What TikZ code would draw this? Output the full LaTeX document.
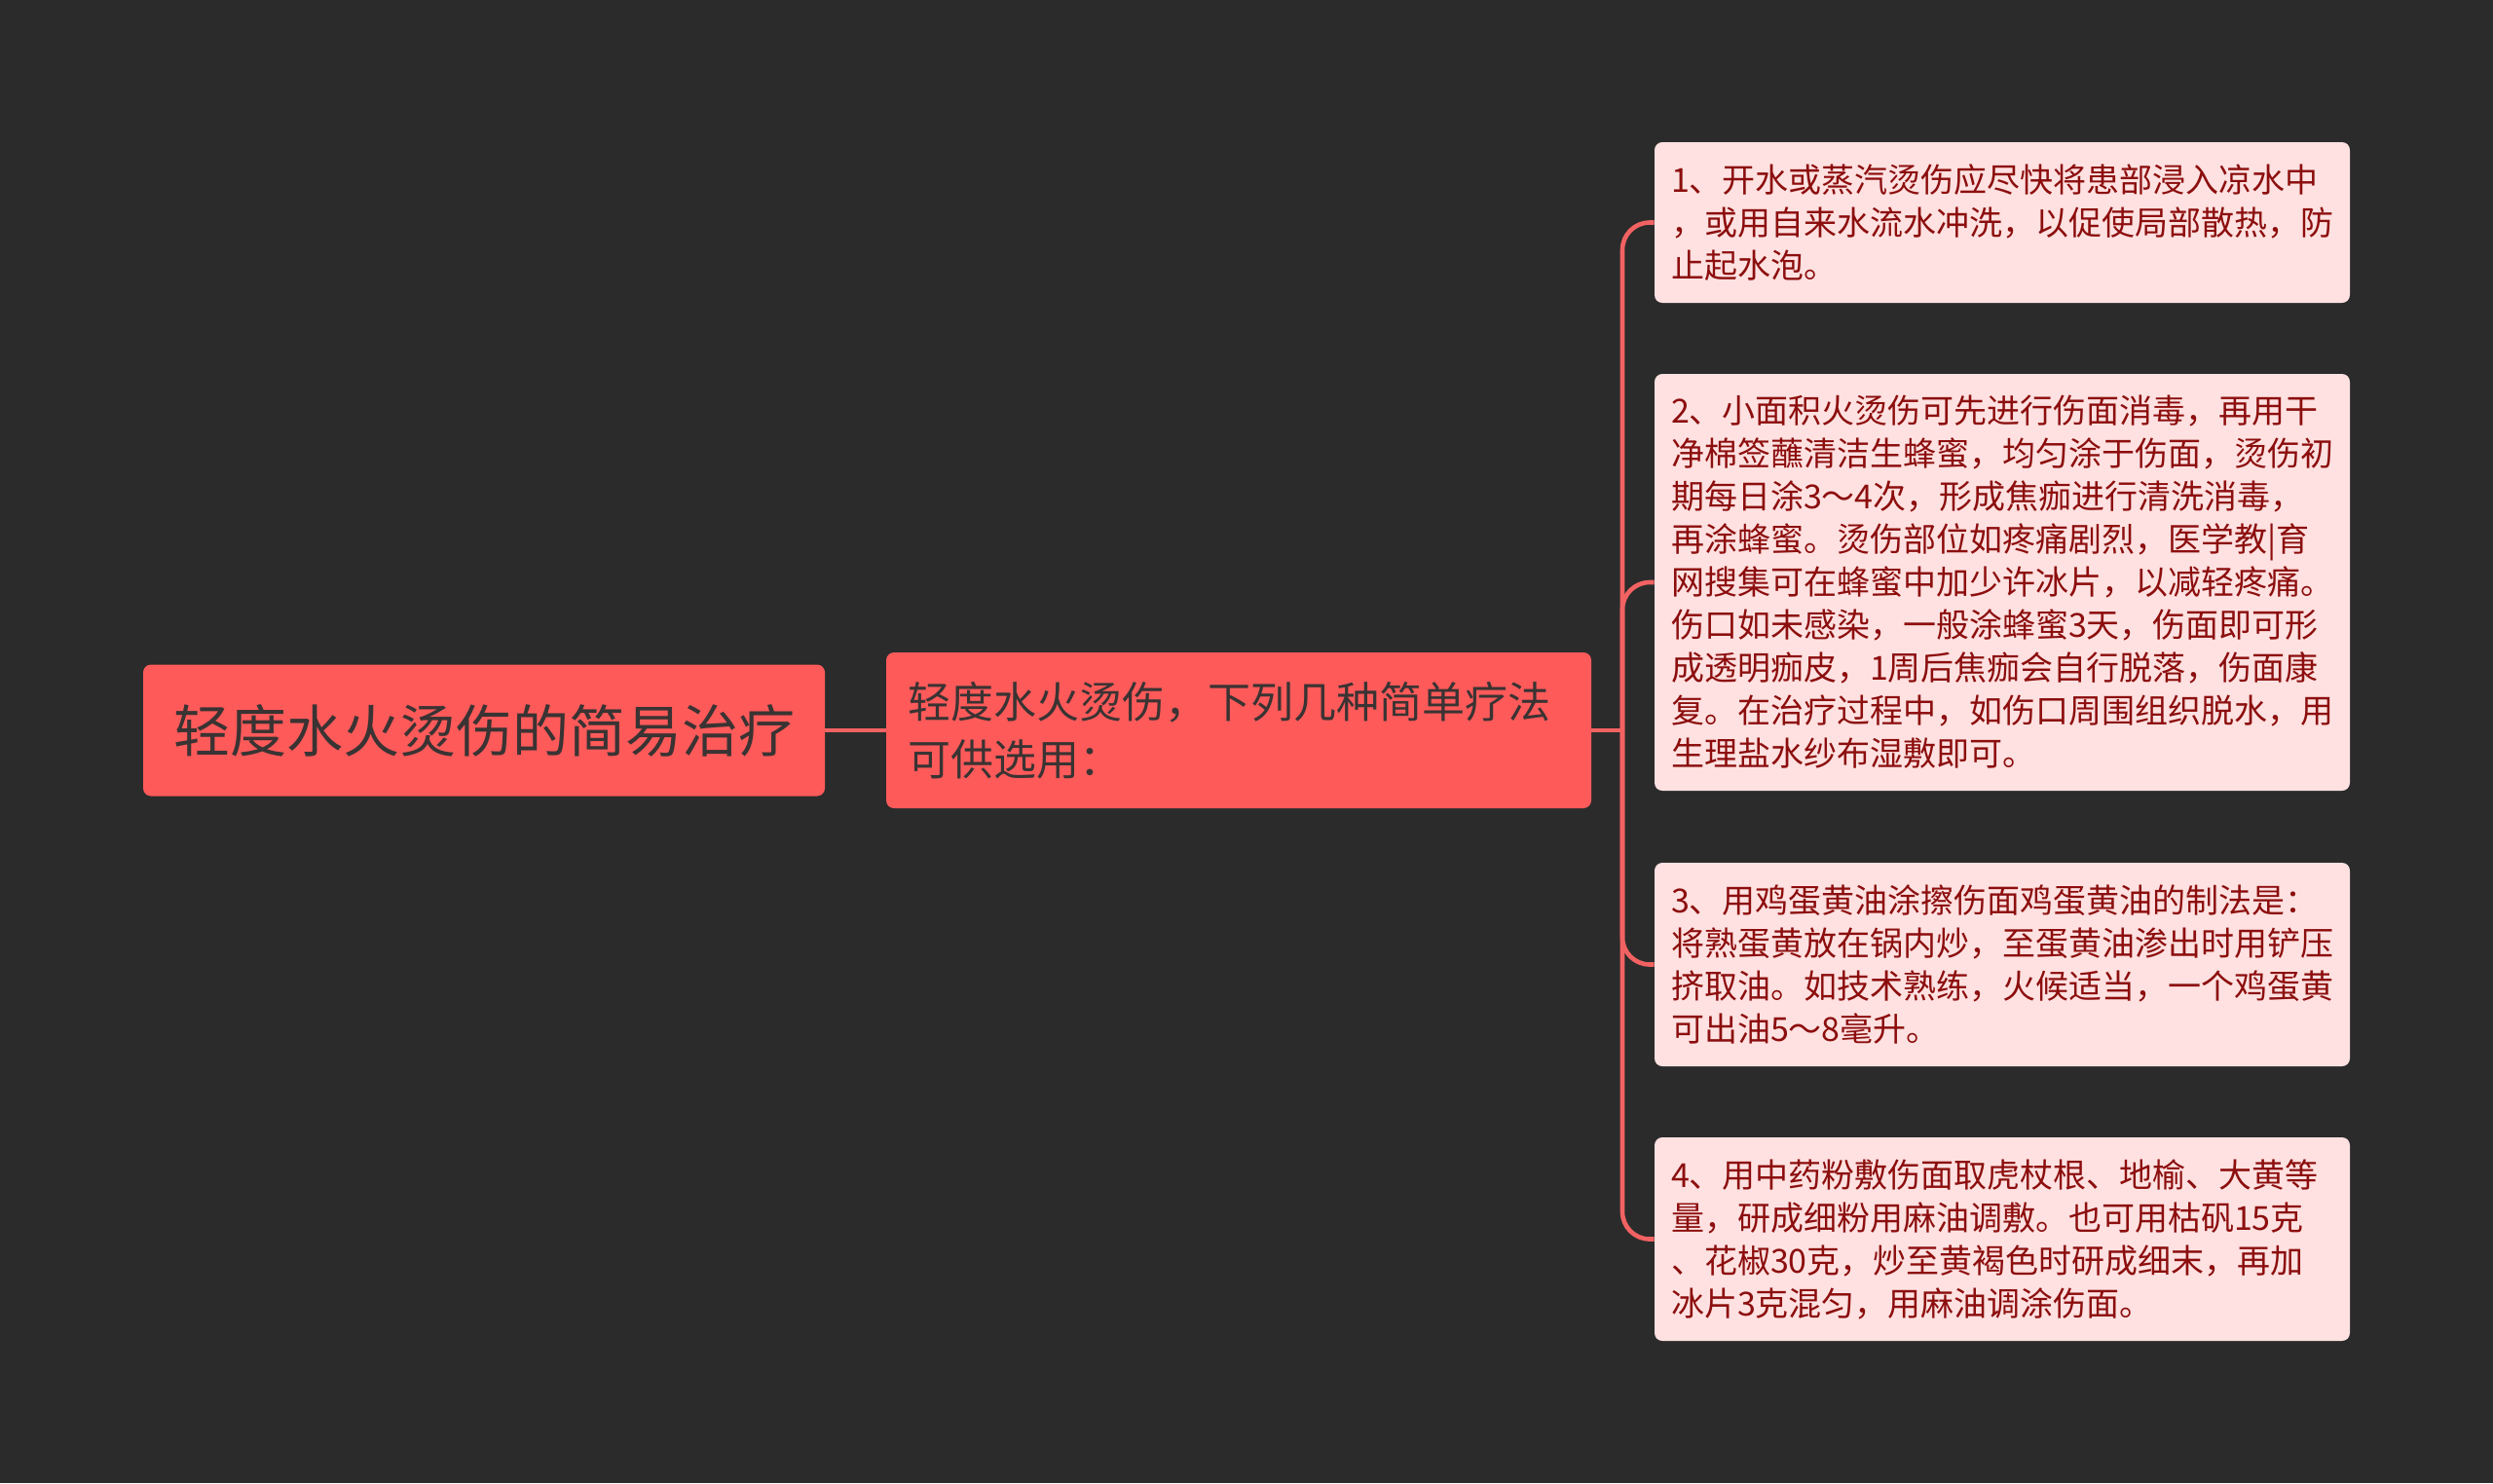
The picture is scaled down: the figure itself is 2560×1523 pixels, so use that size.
\documentclass[tikz,border=0pt]{standalone}
\usepackage{fontspec}
\setmainfont{Noto Sans CJK SC}
\usepackage{tikz}

\definecolor{bgdark}{HTML}{2B2B2B}
\definecolor{mainred}{HTML}{FF5A5A}
\definecolor{linkred}{HTML}{F26262}
\definecolor{leafpink}{HTML}{FFE1E1}
\definecolor{leaftext}{HTML}{8C0E0E}
\definecolor{roottext}{HTML}{3A3333}

\begin{document}
\begin{tikzpicture}[x=0.5pt,y=-0.5pt,
rootnode/.style={rectangle, fill=mainred, rounded corners=4pt, minimum width=350pt, minimum height=67.5pt, text=roottext, font=\fontsize{29pt}{35pt}\selectfont},
topicnode/.style={rectangle, fill=mainred, rounded corners=4pt, text width=340pt, inner xsep=11pt, minimum height=80pt, align=left, text=roottext, font=\fontsize{22pt}{29.5pt}\selectfont},
leafnode/.style={rectangle, fill=leafpink, rounded corners=4pt, text width=340pt, inner xsep=8.5pt, align=left, text=leaftext, font=\fontsize{17pt}{22pt}\selectfont},
link/.style={draw=linkred, line width=2.3pt}
]
%Background
\fill[bgdark] (0,0) rectangle (2560,1523);
\useasboundingbox (0,0) rectangle (2560,1523);

%Nodes
\node[rootnode] at (497,750) (ROOT) {轻度水火烫伤的简易治疗};
\node[topicnode] at (1272,750) (TOPIC) {轻度水火烫伤，下列几种简单疗法\\可供选用：};
\coordinate (BUS) at (1666,750);

\node[leafnode,minimum height=82.5pt] at (2056,228.5) (LEAF-1) {1、开水或蒸汽烫伤应尽快将患部浸入凉水中\\，或用自来水流水冲洗，以促使局部散热，防\\止起水泡。};
\node[leafnode,minimum height=214pt] at (2056,598) (LEAF-2) {2、小面积火烫伤可先进行伤面消毒，再用干\\净棉签蘸清洁生蜂蜜，均匀涂于伤面，烫伤初\\期每日涂3～4次，形成焦痂进行清洗消毒，\\再涂蜂蜜。烫伤部位如疼痛剧烈，医学教|育\\网搜集可在蜂蜜中加少许冰片，以减轻疼痛。\\伤口如未感染，一般涂蜂蜜3天，伤面即可形\\成透明痂皮，1周后焦痂会自行脱落，伤面康\\复。在治疗过程中，如伤口周围组织脱水，用\\生理盐水纱布湿敷即可。};
\node[leafnode,minimum height=104.5pt] at (2056,990.5) (LEAF-3) {3、用鸡蛋黄油涂擦伤面鸡蛋黄油的制法是：\\将熟蛋黄放在锅内炒，至蛋黄油渗出时用铲压\\挤取油。如技术熟练，火候适当，一个鸡蛋黄\\可出油5～8毫升。};
\node[leafnode,minimum height=104.5pt] at (2056,1272.5) (LEAF-4) {4、用中药粉敷伤面取虎杖根、地榆、大黄等\\量，研成细粉用麻油调敷。也可用枯矾15克\\、花椒30克，炒至黄褐色时研成细末，再加\\冰片3克混匀，用麻油调涂伤面。};

%Lines
\draw[link] (ROOT.east) -- (TOPIC.west);
\draw[link] (TOPIC.east) -- (BUS);
\draw[link,rounded corners=14pt] (BUS) |- (LEAF-1.west);
\draw[link,rounded corners=14pt] (BUS) |- (LEAF-2.west);
\draw[link,rounded corners=14pt] (BUS) |- (LEAF-3.west);
\draw[link,rounded corners=14pt] (BUS) |- (LEAF-4.west);
\end{tikzpicture}
\end{document}
